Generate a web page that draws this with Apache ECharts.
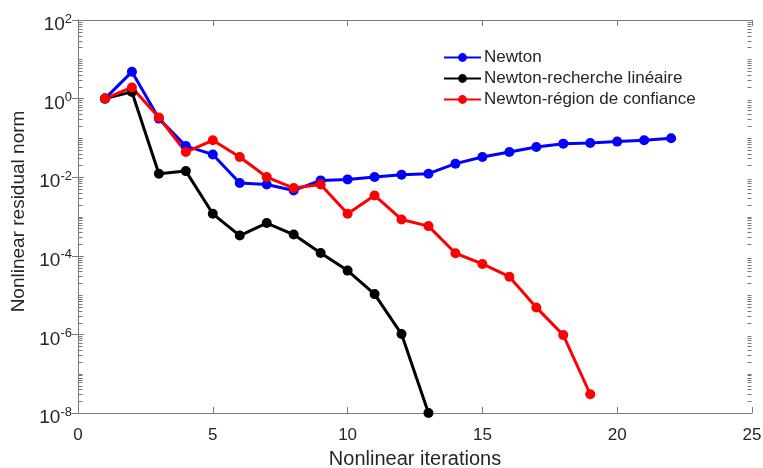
<!DOCTYPE html>
<html>
<head>
<meta charset="utf-8">
<script src="https://cdn.jsdelivr.net/npm/echarts@6/dist/echarts.min.js"></script>
<style>
  html, body { margin: 0; padding: 0; background: #fff; }
  #main { width: 763px; height: 468px; }
</style>
</head>
<body>
<div id="main"></div>
<script>
// iterations
var itersNewton = [1,2,3,4,5,6,7,8,9,10,11,12,13,14,15,16,17,18,19,20,21,22];
var itersLine = [1,2,3,4,5,6,7,8,9,10,11,12,13];
var itersTrust = [1,2,3,4,5,6,7,8,9,10,11,12,13,14,15,16,17,18,19];

// residual norms
var resNewton = [1.0, 4.8, 0.31, 0.062, 0.038, 0.0071, 0.0065, 0.0046, 0.0083, 0.0088, 0.0101,
    0.0115, 0.0123, 0.0221, 0.0326, 0.0437, 0.0586, 0.0714, 0.074, 0.0805, 0.087, 0.098];
var resLine = [1.0, 1.48, 0.0123, 0.0143, 0.00117, 0.000327, 0.00068, 0.000348, 0.000118,
    4.2e-5, 1.06e-5, 1.02e-6, 1e-8];
var resTrust = [1.0, 1.92, 0.33, 0.0437, 0.087, 0.0326, 0.0101, 0.0053, 0.0065, 0.00117,
    0.00344, 0.00084, 0.00057, 1.16e-4, 6.2e-5, 2.94e-5, 4.86e-6, 9.6e-7, 3.0e-8];

var names = ['Newton', 'Newton-recherche linéaire', 'Newton-région de confiance'];
var colors = ['#0000ff', '#000000', '#ff0000'];

// y tick labels (exponents of 10)
var yLabelExps = [-8, -6, -4, -2, 0, 2];

function pairs(xs, ys) {
    return xs.map(function (x, i) { return [x, ys[i]]; });
}

// log minor ticks, matlab style (2..9 in each decade + odd decades)
var minorVals = [];
for (var d = -8; d < 2; d++) {
    for (var k = 1; k <= 9; k++) {
        if (k == 1 && d % 2 == 0) continue;
        minorVals.push(k * Math.pow(10, d));
    }
}
var majorVals = yLabelExps.map(function (e) { return Math.pow(10, e); });

var chart = echarts.init(document.getElementById('main'));

var axisGray = '#7a7a7a';
var textGray = '#262626';
var font = 'Liberation Sans, Arial, sans-serif';

function mkSeries(i, data) {
    return {
        name: names[i],
        type: 'line',
        data: data,
        symbol: 'circle',
        symbolSize: 10,
        lineStyle: { width: 3, color: colors[i] },
        itemStyle: { color: colors[i] }
    };
}

function xAx(pos, withLabel) {
    return {
        type: 'value', min: 0, max: 25, interval: 5, position: pos,
        axisLine: { show: true, lineStyle: { color: axisGray, width: 1 } },
        axisTick: { inside: true, length: 6, lineStyle: { color: axisGray } },
        axisLabel: withLabel ? {
            fontFamily: font, fontSize: 17, color: textGray, margin: 14
        } : { show: false },
        splitLine: { show: false }
    };
}

function yAx(pos, withLabel) {
    var ax = {
        type: 'log', logBase: 10, min: 1e-8, max: 1e2, position: pos,
        axisLine: { show: true, lineStyle: { color: axisGray, width: 1 } },
        axisTick: { inside: true, length: 6, customValues: majorVals, lineStyle: { color: axisGray } },
        axisLabel: { show: false },
        splitLine: { show: false }
    };
    if (withLabel) {
        ax.axisLabel = {
            customValues: majorVals,
            fontFamily: font, color: textGray, margin: 6,
            padding: [10, 0, 0, 0],
            formatter: function (v) {
                var e = Math.round(Math.log10(v));
                return '{b|10}{s|' + e + '}';
            },
            rich: {
                b: { fontFamily: font, fontSize: 19, color: textGray },
                s: { fontFamily: font, fontSize: 13, color: textGray, padding: [0, 0, 12, 0] }
            }
        };
        ax.name = 'Nonlinear residual norm';
        ax.nameLocation = 'middle';
        ax.nameGap = 47;
        ax.nameTextStyle = { fontFamily: font, fontSize: 19, color: textGray, padding: [0, 0, 0, 10] };
    }
    return ax;
}

var xa = xAx('bottom', true);
xa.name = 'Nonlinear iterations';
xa.nameLocation = 'middle';
xa.nameGap = 36;
xa.nameTextStyle = { fontFamily: font, fontSize: 20, color: textGray };

// short inward minor ticks on both vertical edges of the box
var minorTickSeries = {
    type: 'custom',
    silent: true,
    clip: false,
    data: minorVals.map(function (v) { return [12.5, v]; }),
    renderItem: function (params, api) {
        var cs = params.coordSys;
        var p = api.coord([api.value(0), api.value(1)]);
        var y = Math.round(p[1]) + 0.5;
        var xl = Math.round(cs.x) + 0.5;
        var xr = Math.round(cs.x + cs.width) - 0.5;
        var st = { stroke: axisGray, lineWidth: 1 };
        return {
            type: 'group',
            children: [
                { type: 'line', shape: { x1: xl, y1: y, x2: xl + 4, y2: y }, style: st },
                { type: 'line', shape: { x1: xr, y1: y, x2: xr - 4, y2: y }, style: st }
            ]
        };
    },
    z: 5
};

chart.setOption({
    animation: false,
    grid: { left: 78, right: 11, top: 20, bottom: 55, outerBoundsMode: 'none', containLabel: false },
    legend: {
        top: 49, left: 443, padding: 0, orient: 'vertical',
        itemWidth: 37, itemHeight: 11, itemGap: 4,
        textStyle: { fontFamily: font, fontSize: 17, color: textGray, padding: [0, 0, 0, -2] },
        data: names
    },
    xAxis: [xa, xAx('top', false)],
    yAxis: [yAx('left', true), yAx('right', false)],
    series: [
        mkSeries(0, pairs(itersNewton, resNewton)),
        mkSeries(1, pairs(itersLine, resLine)),
        mkSeries(2, pairs(itersTrust, resTrust)),
        minorTickSeries
    ]
});
</script>
</body>
</html>
